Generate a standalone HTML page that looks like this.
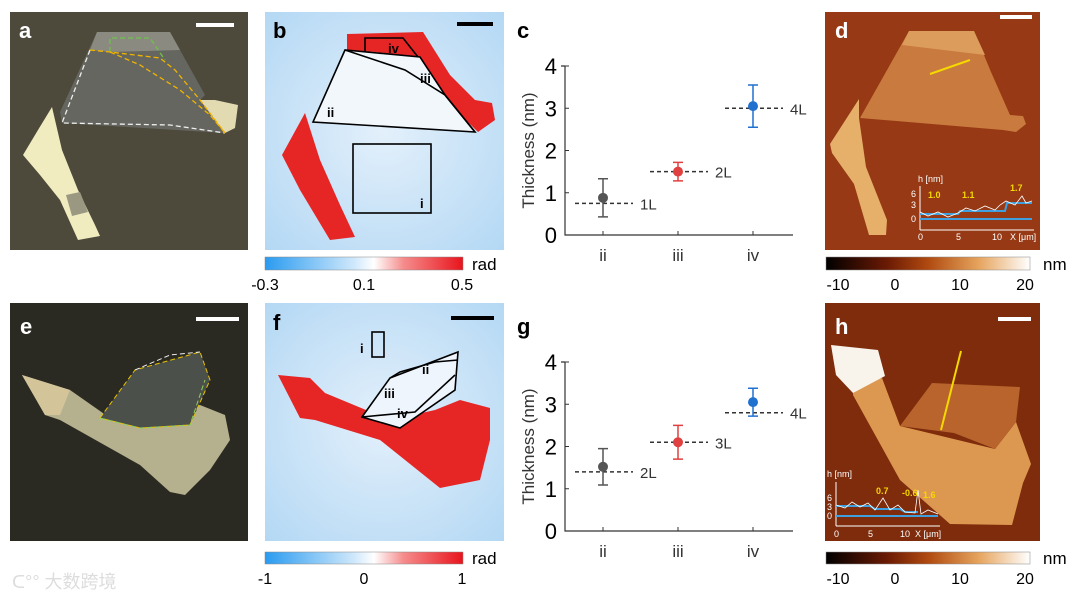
<!DOCTYPE html>
<html><head><meta charset="utf-8"><style>
body{margin:0;background:#fff;font-family:"Liberation Sans",Arial,sans-serif}
svg{display:block}
</style></head><body>
<svg width="1080" height="602" viewBox="0 0 1080 602" xmlns="http://www.w3.org/2000/svg" font-family="Liberation Sans, Arial, sans-serif">
<defs>
<linearGradient id="bwr" x1="0" x2="1"><stop offset="0" stop-color="#2a9bf0"/><stop offset="0.45" stop-color="#cfe8fb"/><stop offset="0.55" stop-color="#fff"/><stop offset="0.7" stop-color="#f58c8c"/><stop offset="1" stop-color="#e8141c"/></linearGradient>
<linearGradient id="afm" x1="0" x2="1"><stop offset="0" stop-color="#000"/><stop offset="0.3" stop-color="#6b1a04"/><stop offset="0.5" stop-color="#b04a10"/><stop offset="0.75" stop-color="#e6a55e"/><stop offset="1" stop-color="#fff"/></linearGradient>
<radialGradient id="blue" cx="0.5" cy="0.5" r="0.7"><stop offset="0" stop-color="#e3f0fb"/><stop offset="1" stop-color="#b4d8f4"/></radialGradient>
</defs>

<!-- panel a -->
<g>
<rect x="10" y="12" width="238" height="238" fill="#4d4a3c"/>
<polygon points="97,32 170,32 205,95 200,100 225,133 62,123 60,112" fill="#65665f"/>
<polygon points="97,32 170,32 180,50 110,52 90,50" fill="#8a8a80"/>
<polygon points="200,100 215,100 238,105 235,128 225,133" fill="#e2dab0"/>
<polygon points="52,107 62,150 78,190 95,225 100,236 78,240 60,200 40,175 23,155 38,130" fill="#f0ecc0"/>
<polygon points="66,195 80,192 88,212 72,216" fill="#9a9880"/>
<polyline points="110,52 110,38 150,38 165,60" fill="none" stroke="#6ec04a" stroke-dasharray="5,3" stroke-width="1.3"/>
<polyline points="90,50 62,123 170,125 225,133" fill="none" stroke="#eee" stroke-dasharray="5,3" stroke-width="1.3"/>
<polyline points="90,50 110,52 160,58 175,70 200,100 225,133" fill="none" stroke="#f0b400" stroke-dasharray="5,3" stroke-width="1.3"/>
<polyline points="110,52 140,65 180,90 210,115 225,133" fill="none" stroke="#f0b400" stroke-dasharray="5,3" stroke-width="1.3"/>
<rect x="196" y="23" width="38" height="4" fill="#fff"/>
<text x="19" y="38" font-size="22" font-weight="bold" fill="#fff">a</text>
</g>

<!-- panel b -->
<g>
<rect x="265" y="12" width="239" height="238" fill="url(#blue)"/>
<polygon points="347,34 423,32 450,75 475,100 492,103 495,120 478,132 440,95 415,57 347,50" fill="#e62525"/>
<polygon points="305,113 282,155 300,190 315,215 330,240 355,237 340,205 320,160" fill="#e62525"/>
<polygon points="345,50 313,122 475,132 445,95 420,57 375,52" fill="#f2f7fc"/>
<polygon points="345,50 313,122 475,132 445,95 420,57" fill="none" stroke="#000" stroke-width="1.6"/>
<polyline points="365,52 365,38 403,38 418,57" fill="none" stroke="#000" stroke-width="1.6"/>
<polyline points="345,50 405,70 445,95 475,132" fill="none" stroke="#000" stroke-width="1.6"/>
<rect x="353" y="144" width="78" height="69" fill="none" stroke="#000" stroke-width="1.6"/>
<text x="388" y="53" font-size="13" font-weight="bold">iv</text>
<text x="420" y="83" font-size="13" font-weight="bold">iii</text>
<text x="327" y="117" font-size="13" font-weight="bold">ii</text>
<text x="420" y="208" font-size="13" font-weight="bold">i</text>
<rect x="457" y="22" width="36" height="4" fill="#000"/>
<text x="273" y="38" font-size="22" font-weight="bold">b</text>
</g>
<g>
<rect x="265" y="257" width="198" height="13" fill="url(#bwr)" stroke="#888" stroke-width="0.5"/>
<text x="472" y="270" font-size="17">rad</text>
<text x="265" y="290" font-size="16" text-anchor="middle">-0.3</text>
<text x="364" y="290" font-size="16" text-anchor="middle">0.1</text>
<text x="462" y="290" font-size="16" text-anchor="middle">0.5</text>
</g>

<!-- panel d -->
<g>
<rect x="825" y="12" width="215" height="238" fill="#963914"/>
<polygon points="909,31 974,31 991,72 1010,115 1023,116 1026,124 1016,132 1003,130 860,118" fill="#c97a3e"/>
<polygon points="909,31 974,31 985,55 902,45" fill="#dc9c5c"/>
<polygon points="859,99 830,144 832,153 854,184 869,235 886,235 887,220 866,167 859,118" fill="#e6b06a"/>
<line x1="930" y1="74" x2="970" y2="60" stroke="#f5d800" stroke-width="2"/>
<text x="918" y="182" font-size="9" fill="#fff">h [nm]</text>
<text x="911" y="197" font-size="9" fill="#fff">6</text><text x="911" y="208" font-size="9" fill="#fff">3</text><text x="911" y="222" font-size="9" fill="#fff">0</text>
<line x1="920" y1="186" x2="920" y2="230" stroke="#fff"/><line x1="920" y1="230" x2="1034" y2="230" stroke="#fff"/>
<line x1="920" y1="219" x2="1032" y2="219" stroke="#3fa0e0" stroke-width="2"/>
<polyline points="920,214 958,214 960,211 1005,211 1007,203 1032,203" fill="none" stroke="#3fa0e0" stroke-width="2"/>
<polyline points="920,212 928,216 938,212 948,217 958,213 966,208 975,211 985,206 995,210 1000,205 1006,201 1015,205 1022,196 1026,203 1032,201" fill="none" stroke="#fff" stroke-width="0.8"/>
<text x="928" y="198" font-size="9" font-weight="bold" fill="#f5d800">1.0</text><text x="962" y="198" font-size="9" font-weight="bold" fill="#f5d800">1.1</text><text x="1010" y="191" font-size="9" font-weight="bold" fill="#f5d800">1.7</text>
<text x="918" y="240" font-size="9" fill="#fff">0</text><text x="956" y="240" font-size="9" fill="#fff">5</text><text x="992" y="240" font-size="9" fill="#fff">10</text><text x="1010" y="240" font-size="9" fill="#fff">X [μm]</text>
<rect x="1000" y="15" width="32" height="4" fill="#fff"/>
<text x="835" y="38" font-size="22" font-weight="bold" fill="#fff">d</text>
</g>
<g>
<rect x="826" y="257" width="204" height="13" fill="url(#afm)" stroke="#888" stroke-width="0.5"/>
<text x="1043" y="270" font-size="17">nm</text>
<text x="838" y="290" font-size="16" text-anchor="middle">-10</text><text x="895" y="290" font-size="16" text-anchor="middle">0</text><text x="960" y="290" font-size="16" text-anchor="middle">10</text><text x="1025" y="290" font-size="16" text-anchor="middle">20</text>
</g>

<!-- panel e -->
<g>
<rect x="10" y="303" width="238" height="238" fill="#2b2a22"/>
<polygon points="22,375 70,390 110,418 165,410 200,405 225,415 230,440 210,470 185,495 170,492 140,465 60,420 45,415" fill="#b5b08e"/>
<polygon points="22,375 70,390 60,415 45,415" fill="#d3c49a"/>
<polygon points="100,418 135,370 200,352 210,380 190,425 140,428" fill="#4c504a"/>
<polygon points="100,418 135,370 200,352 210,380 190,425 140,428" fill="none" stroke="#e8c000" stroke-dasharray="5,3"/>
<polyline points="135,370 170,355 200,352" fill="none" stroke="#eee" stroke-dasharray="5,3"/>
<polyline points="100,418 140,428 190,425 205,380" fill="none" stroke="#8fcf5a" stroke-dasharray="5,3"/>
<rect x="196" y="317" width="43" height="4" fill="#fff"/>
<text x="20" y="334" font-size="22" font-weight="bold" fill="#fff">e</text>
</g>

<!-- panel f -->
<g>
<rect x="265" y="303" width="239" height="238" fill="url(#blue)"/>
<polygon points="278,375 310,378 325,393 390,420 435,410 460,400 490,408 490,440 480,480 440,488 380,440 315,420 300,418" fill="#e62525"/>
<polygon points="362,417 390,378 458,352 455,390 400,428" fill="#eef5fc" stroke="#000" stroke-width="1.6"/>
<polyline points="390,378 400,372 435,362 458,360" fill="none" stroke="#000" stroke-width="1.6"/>
<polyline points="362,417 415,412 455,375" fill="none" stroke="#000" stroke-width="1.6"/>
<rect x="372" y="332" width="12" height="25" fill="none" stroke="#000" stroke-width="1.6"/>
<text x="360" y="353" font-size="13" font-weight="bold">i</text>
<text x="422" y="374" font-size="13" font-weight="bold">ii</text>
<text x="384" y="398" font-size="13" font-weight="bold">iii</text>
<text x="397" y="418" font-size="13" font-weight="bold">iv</text>
<rect x="451" y="316" width="43" height="4" fill="#000"/>
<text x="273" y="330" font-size="22" font-weight="bold">f</text>
</g>
<g>
<rect x="265" y="552" width="198" height="12" fill="url(#bwr)" stroke="#888" stroke-width="0.5"/>
<text x="472" y="564" font-size="17">rad</text>
<text x="265" y="584" font-size="16" text-anchor="middle">-1</text><text x="364" y="584" font-size="16" text-anchor="middle">0</text><text x="462" y="584" font-size="16" text-anchor="middle">1</text>
</g>

<!-- panel h -->
<g>
<rect x="825" y="303" width="215" height="238" fill="#7e2c0c"/>
<polygon points="853,384 882,378 900,426 995,449 1016,422 1031,464 1023,483 1012,525 950,524 900,480 853,395" fill="#dc9850"/>
<polygon points="932,383 1020,387 1016,422 995,449 954,433 900,426" fill="#b8642c"/>
<polygon points="831,345 878,350 885,376 853,393 836,375" fill="#f8f4ec"/>
<line x1="961" y1="351" x2="941" y2="430" stroke="#f5d800" stroke-width="2"/>
<text x="827" y="477" font-size="9" fill="#fff">h [nm]</text>
<text x="827" y="501" font-size="9" fill="#fff">6</text><text x="827" y="510" font-size="9" fill="#fff">3</text><text x="827" y="519" font-size="9" fill="#fff">0</text>
<line x1="836" y1="482" x2="836" y2="526" stroke="#fff"/><line x1="836" y1="526" x2="940" y2="526" stroke="#fff"/>
<line x1="836" y1="516" x2="938" y2="516" stroke="#3fa0e0" stroke-width="2"/>
<polyline points="836,506 870,506 875,509 900,509 905,512 918,512" fill="none" stroke="#3fa0e0" stroke-width="2"/>
<polyline points="836,505 845,508 852,502 860,507 868,503 875,510 883,498 890,510 898,505 905,512 915,513 918,490 921,514 928,510 938,514" fill="none" stroke="#fff" stroke-width="0.8"/>
<text x="876" y="494" font-size="9" font-weight="bold" fill="#f5d800">0.7</text><text x="902" y="496" font-size="9" font-weight="bold" fill="#f5d800">-0.6</text><text x="923" y="498" font-size="9" font-weight="bold" fill="#f5d800">1.6</text>
<text x="834" y="537" font-size="9" fill="#fff">0</text><text x="868" y="537" font-size="9" fill="#fff">5</text><text x="900" y="537" font-size="9" fill="#fff">10</text><text x="915" y="537" font-size="9" fill="#fff">X [μm]</text>
<rect x="998" y="317" width="33" height="4" fill="#fff"/>
<text x="835" y="334" font-size="22" font-weight="bold" fill="#fff">h</text>
</g>
<g>
<rect x="826" y="552" width="204" height="12" fill="url(#afm)" stroke="#888" stroke-width="0.5"/>
<text x="1043" y="564" font-size="17">nm</text>
<text x="838" y="584" font-size="16" text-anchor="middle">-10</text><text x="895" y="584" font-size="16" text-anchor="middle">0</text><text x="960" y="584" font-size="16" text-anchor="middle">10</text><text x="1025" y="584" font-size="16" text-anchor="middle">20</text>
</g>

<text x="12" y="588" font-size="18" fill="#ddd" font-family="Liberation Sans, Noto Sans CJK SC, sans-serif">ᑕ°° 大数跨境</text>

<g id="chartC"></g>
<g id="chartG"></g>
<text x="517" y="38" font-size="22" font-weight="bold">c</text>
<text x="517" y="334" font-size="22" font-weight="bold">g</text>
</svg>
<script>
const categories = ["ii","iii","iv"];
const yTicks = [0,1,2,3,4];
const colors = ["#555","#e04040","#2070d0"];
const cMeans = [0.88,1.5,3.05];
const cErrs = [0.45,0.22,0.5];
const cLayerVals = [0.75,1.5,3.0];
const cLayerLabels = ["1L","2L","4L"];
const gMeans = [1.52,2.1,3.05];
const gErrs = [0.43,0.4,0.33];
const gLayerVals = [1.4,2.1,2.8];
const gLayerLabels = ["2L","3L","4L"];
const NS="http://www.w3.org/2000/svg";
function mk(p,t,a){const e=document.createElementNS(NS,t);for(const k in a)e.setAttribute(k,a[k]);p.appendChild(e);return e;}
function draw(gid,top,means,errs,lv,ll){
  const g=document.getElementById(gid);
  const x0=565,x1=793,yb=top+169,yt=top;
  const y=v=>yb-(v/4)*(yb-yt);
  const x=i=>603+i*75;
  const ax=mk(g,'path',{d:`M${x0},${yt} H${x0-4} M${x0},${yt} V${yb} H${x1}`,stroke:'#333',fill:'none','stroke-width':1.2});
  
  
  yTicks.forEach(t=>{
    mk(g,'line',{x1:x0,x2:x0+4,y1:y(t),y2:y(t),stroke:'#333'});
    const tx=mk(g,'text',{x:x0-8,y:y(t)+8,'font-size':22,'text-anchor':'end'});tx.textContent=t;
    
    
  });
  categories.forEach((c,i)=>{
    mk(g,'line',{x1:x(i),x2:x(i),y1:yb,y2:yb-4,stroke:'#333'});
    const tx=mk(g,'text',{x:x(i),y:yb+26,'font-size':17,'text-anchor':'middle',fill:'#333'});tx.textContent=c;
    
    
    const dl=mk(g,'line',{x1:x(i)-28,x2:x(i)+30,y1:y(lv[i]),y2:y(lv[i]),stroke:'#333','stroke-dasharray':'4,3','stroke-width':1.5});
    
    
    const lt=mk(g,'text',{x:x(i)+37,y:y(lv[i])+6,'font-size':15,fill:'#333'});lt.textContent=ll[i];
    
    
    const eb=mk(g,'path',{d:`M${x(i)},${y(means[i]-errs[i])} V${y(means[i]+errs[i])} M${x(i)-5},${y(means[i]-errs[i])} h10 M${x(i)-5},${y(means[i]+errs[i])} h10`,stroke:colors[i],fill:'none','stroke-width':1.5});
    
    
    const pt=mk(g,'circle',{cx:x(i),cy:y(means[i]),r:5,fill:colors[i]});
    
    
  });
  const yl=mk(g,'text',{transform:`translate(534,${(yt+yb)/2}) rotate(-90)`,'font-size':17,'text-anchor':'middle',fill:'#333'});yl.textContent='Thickness (nm)';
  
  
}
draw('chartC',66,cMeans,cErrs,cLayerVals,cLayerLabels);
draw('chartG',362,gMeans,gErrs,gLayerVals,gLayerLabels);
</script>
</body></html>
